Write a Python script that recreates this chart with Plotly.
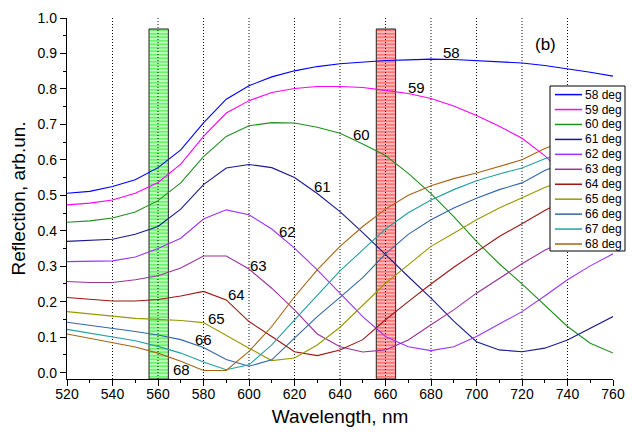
import plotly.graph_objects as go

# ---------------- data ----------------
wavelength = list(range(520, 761, 10))

angles = ["58", "59", "60", "61", "62", "63", "64", "65", "66", "67", "68"]

r58 = [0.506, 0.511, 0.525, 0.544, 0.578, 0.628, 0.704, 0.771, 0.809, 0.834, 0.851, 0.863, 0.871,
       0.876, 0.880, 0.882, 0.884, 0.883, 0.880, 0.877, 0.873, 0.866, 0.857, 0.847, 0.836]
r59 = [0.473, 0.478, 0.487, 0.506, 0.536, 0.588, 0.666, 0.732, 0.767, 0.790, 0.801, 0.807, 0.807,
       0.804, 0.796, 0.787, 0.773, 0.752, 0.725, 0.695, 0.661, 0.612, 0.550, 0.480, 0.410]
r60 = [0.424, 0.428, 0.436, 0.453, 0.485, 0.535, 0.609, 0.666, 0.696, 0.705, 0.704, 0.692, 0.675,
       0.645, 0.612, 0.562, 0.505, 0.440, 0.370, 0.307, 0.250, 0.190, 0.130, 0.083, 0.055]
r61 = [0.370, 0.372, 0.376, 0.390, 0.412, 0.461, 0.530, 0.577, 0.587, 0.578, 0.550, 0.505, 0.454,
       0.395, 0.332, 0.271, 0.210, 0.145, 0.087, 0.064, 0.059, 0.069, 0.092, 0.125, 0.158]
r62 = [0.313, 0.313, 0.315, 0.326, 0.350, 0.379, 0.433, 0.459, 0.445, 0.405, 0.351, 0.290, 0.225,
       0.158, 0.102, 0.073, 0.062, 0.073, 0.102, 0.137, 0.172, 0.216, 0.262, 0.301, 0.335]
r63 = [0.257, 0.254, 0.254, 0.262, 0.273, 0.295, 0.329, 0.329, 0.292, 0.238, 0.177, 0.109, 0.073,
       0.058, 0.064, 0.092, 0.135, 0.177, 0.224, 0.266, 0.307, 0.345, 0.375, 0.410, 0.440]
r64 = [0.212, 0.206, 0.202, 0.202, 0.206, 0.216, 0.229, 0.205, 0.144, 0.102, 0.059, 0.048, 0.064,
       0.093, 0.149, 0.200, 0.250, 0.297, 0.341, 0.384, 0.420, 0.457, 0.490, 0.520, 0.550]
r65 = [0.172, 0.165, 0.158, 0.153, 0.150, 0.147, 0.141, 0.104, 0.069, 0.034, 0.041, 0.078, 0.128,
       0.190, 0.252, 0.304, 0.356, 0.393, 0.431, 0.464, 0.492, 0.522, 0.545, 0.565, 0.585]
r66 = [0.142, 0.134, 0.125, 0.116, 0.106, 0.093, 0.071, 0.037, 0.018, 0.036, 0.097, 0.158, 0.212,
       0.268, 0.335, 0.390, 0.431, 0.464, 0.492, 0.516, 0.535, 0.570, 0.595, 0.615, 0.635]
r67 = [0.122, 0.112, 0.102, 0.090, 0.074, 0.055, 0.030, 0.008, 0.022, 0.078, 0.149, 0.219, 0.287,
       0.346, 0.405, 0.451, 0.487, 0.516, 0.541, 0.560, 0.577, 0.603, 0.625, 0.645, 0.660]
r68 = [0.109, 0.097, 0.085, 0.072, 0.055, 0.032, 0.006, 0.006, 0.060, 0.130, 0.214, 0.290, 0.356,
       0.412, 0.461, 0.500, 0.527, 0.547, 0.563, 0.582, 0.600, 0.632, 0.655, 0.675, 0.695]

series = [r58, r59, r60, r61, r62, r63, r64, r65, r66, r67, r68]

colors = ["#0000ff", "#ff00ff", "#1e901e", "#1a1a8c", "#9933ff", "#993399",
          "#a01515", "#999900", "#3366aa", "#22a0a0", "#a86414"]

# curve labels
label_text = ["58", "59", "60", "61", "62", "63", "64", "65", "66", "68"]
label_x = [689.2, 673.8, 649.6, 632.5, 617.1, 604.3, 594.6, 585.8, 580.1, 570.4]
label_y = [0.902, 0.803, 0.671, 0.524, 0.397, 0.301, 0.219, 0.152, 0.092, 0.010]

# highlighted wavelength bands
band_centers = [560.3, 660.2]
band_width = 8.5
band_top = 0.969

x_ticks = list(range(520, 761, 20))
grid_x = list(range(540, 741, 20))
y_ticks = [round(0.1 * i, 1) for i in range(11)]

# ---------------- layout constants ----------------
W, H = 632, 432
ML, MR, MT, MB = 67, 19, 18, 53
Y_MIN, Y_MAX = -0.018, 1.0
FONT = "Liberation Sans, Arial, sans-serif"

fig = go.Figure()

# bands (bars, drawn beneath everything)
band_styles = [("#00e600", "#c0ffc0"), ("#ff1a1a", "#ffbcbc")]
for c, (fg, bg) in zip(band_centers, band_styles):
    fig.add_trace(go.Bar(
        x=[c], y=[band_top - Y_MIN], base=[Y_MIN], width=[band_width],
        marker=dict(color=bg,
                    pattern=dict(shape="-", fgcolor=fg, bgcolor=bg, size=3.5, solidity=0.45),
                    line=dict(color="#222222", width=1)),
        showlegend=False, hoverinfo="skip"))

# dotted vertical grid (drawn above bars, below curves)
gx, gy = [], []
for g in grid_x:
    gx += [g, g, None]
    gy += [Y_MIN, Y_MAX, None]
fig.add_trace(go.Scatter(x=gx, y=gy, mode="lines",
                         line=dict(color="#111111", width=1, dash="1px,2px"),
                         showlegend=False, hoverinfo="skip"))

for name, vals, col in zip(angles, series, colors):
    fig.add_trace(go.Scatter(x=wavelength, y=vals, mode="lines", name=name + " deg",
                             line=dict(color=col, width=1.1), showlegend=False))

annotations = []
for t, lx, ly in zip(label_text, label_x, label_y):
    annotations.append(dict(x=lx, y=ly, xref="x", yref="y", text=t, showarrow=False,
                            font=dict(family=FONT, size=15, color="black"),
                            xanchor="center", yanchor="middle"))
annotations.append(dict(x=730.5, y=0.925, xref="x", yref="y", text="(b)", showarrow=False,
                        font=dict(family=FONT, size=17, color="black"),
                        xanchor="center", yanchor="middle"))

# custom legend (compact, like the original)
pw = W - ML - MR
ph = H - MT - MB


def px2paper_x(px):
    return (px - ML) / pw


def px2paper_y(py):
    return (H - MB - py) / ph


shapes = [dict(type="rect", xref="paper", yref="paper",
               x0=px2paper_x(550), x1=px2paper_x(625),
               y0=px2paper_y(251), y1=px2paper_y(86),
               fillcolor="white", line=dict(color="black", width=1), layer="above")]
for i, (name, col) in enumerate(zip(angles, colors)):
    yc = 94.6 + 14.94 * i
    shapes.append(dict(type="line", xref="paper", yref="paper",
                       x0=px2paper_x(555), x1=px2paper_x(582),
                       y0=px2paper_y(yc), y1=px2paper_y(yc),
                       line=dict(color=col, width=1.5), layer="above"))
    annotations.append(dict(x=px2paper_x(583), y=px2paper_y(yc), xref="paper", yref="paper",
                            text=name + " deg", showarrow=False, xanchor="left", yanchor="middle",
                            font=dict(family=FONT, size=12, color="black")))

fig.update_layout(
    width=W, height=H,
    margin=dict(l=ML, r=MR, t=MT, b=MB, pad=0, autoexpand=False),
    paper_bgcolor="white", plot_bgcolor="white",
    barmode="overlay",
    showlegend=False,
    font=dict(family=FONT, color="black"),
    shapes=shapes,
    annotations=annotations,
    xaxis=dict(range=[520, 760], tickvals=x_ticks, ticks="outside", ticklen=6, tickwidth=1,
               tickcolor="black", showline=True, linecolor="black", linewidth=1.2,
               showgrid=False, zeroline=False, automargin=False, ticklabelstandoff=-4,
               tickfont=dict(family=FONT, size=14, color="black"),
               minor=dict(dtick=10, tick0=520, ticks="outside", ticklen=3, tickcolor="black",
                          showgrid=False),
               title=dict(text="Wavelength, nm", font=dict(family=FONT, size=19, color="black"),
                          standoff=8)),
    yaxis=dict(range=[Y_MIN, Y_MAX], tickvals=y_ticks, tickformat=".1f", ticks="outside",
               ticklen=6, tickwidth=1, tickcolor="black", showline=True, linecolor="black",
               linewidth=1.2, showgrid=False, zeroline=False, automargin=False,
               tickfont=dict(family=FONT, size=14, color="black"),
               minor=dict(dtick=0.05, tick0=0, ticks="outside", ticklen=3, tickcolor="black",
                          showgrid=False),
               title=dict(text="Reflection, arb.un.", font=dict(family=FONT, size=19, color="black"),
                          standoff=6)),
)

fig.write_html("out.html", config={"displayModeBar": False, "staticPlot": True},
               post_script="document.body.style.margin='0';document.body.style.overflow='hidden';")
